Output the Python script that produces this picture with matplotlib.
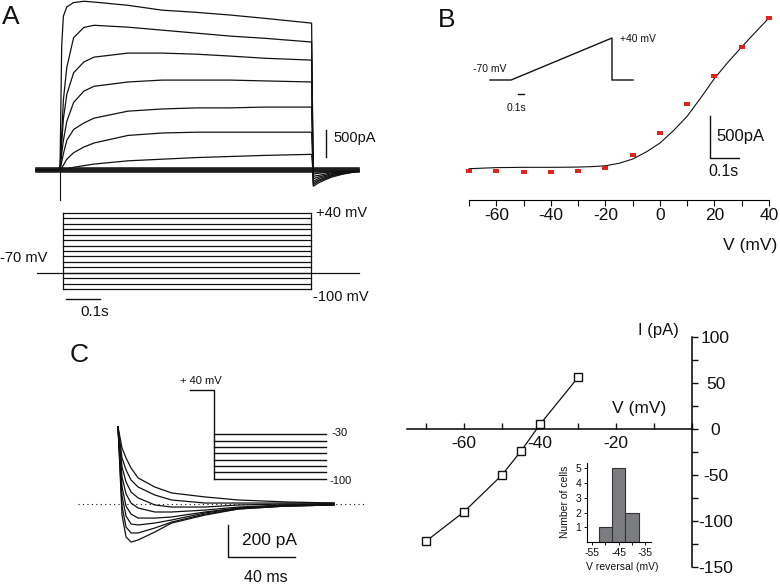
import matplotlib
matplotlib.use("Agg")
import matplotlib.pyplot as plt
from matplotlib.path import Path

plt.rcParams["font.family"] = ["Liberation Sans", "DejaVu Sans"]
plt.rcParams["axes.unicode_minus"] = False

W, H = 780, 584
INK = "#111111"

# ---- panel A: outward currents (s, pA) ----
A_T = [-0.07, 0, 0.005, 0.01, 0.02, 0.04, 0.07, 0.1, 0.2, 0.3, 0.4, 0.5, 0.6, 0.74,
       0.745, 0.75, 0.76, 0.78, 0.80, 0.83, 0.88]
A_TRACES = [
    [0, 0, 2300, 2850, 3020, 3100, 3125, 3110, 3050, 2960, 2920, 2870, 2810, 2720, -300, -280, -240, -180, -130, -80, -20],
    [0, 0, 650, 1300, 1900, 2450, 2640, 2680, 2645, 2590, 2535, 2480, 2440, 2370, -270, -250, -210, -160, -110, -70, -20],
    [0, 0, 500, 950, 1400, 1800, 2000, 2090, 2165, 2165, 2145, 2110, 2070, 2035, -240, -220, -190, -140, -100, -60, -20],
    [0, 0, 300, 550, 900, 1250, 1460, 1550, 1630, 1665, 1665, 1665, 1650, 1630, -200, -190, -160, -120, -80, -50, -15],
    [0, 0, 150, 300, 550, 750, 870, 960, 1090, 1130, 1150, 1150, 1165, 1165, -160, -150, -130, -100, -70, -40, -15],
    [0, 0, 40, 90, 200, 320, 425, 500, 640, 685, 700, 700, 700, 700, -120, -110, -100, -75, -50, -30, -10],
    [0, 0, 0, 10, 20, 50, 80, 110, 170, 200, 230, 250, 270, 290, -80, -70, -60, -45, -30, -20, -10],
]
A_FLAT = [30, 15, 0, -15, -30]                  # hyperpolarised steps, pA
A_TRANSIENT = -550                              # capacitive spike at step onset
A_SCALE = (0.782, 240, 500)                     # x (s), y0 (pA), height (pA)

PROT_A_LEVELS = [40, 30, 20, 10, 0, -10, -20, -30, -40, -50, -60, -70, -80, -90, -100]
PROT_A_DUR = 0.73
HOLD_V = -70
HOLD_T = (-0.076, 0.87)
A_TIME_BAR = (0.009, 0.109, -118)

# ---- panel B: ramp I-V ----
B_V = [-70, -60, -50, -40, -30, -20, -10, 0, 10, 20, 30, 40]
B_I = [-10, -10, -25, -25, -10, 25, 180, 440, 785, 1120, 1465, 1810]
B_FIT_V = [-70, -65, -60, -55, -50, -45, -40, -35, -30, -25, -20, -15, -10, -5,
           0, 5, 10, 15, 20, 25, 30, 35, 40]
B_FIT_I = [15, 22, 28, 30, 32, 32, 32, 33, 35, 40, 50, 80, 130, 215,
           320, 470, 640, 860, 1090, 1285, 1465, 1640, 1810]
B_SCALE = (18.4, 143, 500, 10.6)  # x, y, height (pA), width
RAMP_T = [0, 0.37, 2.14, 2.14, 2.51]
RAMP_V = [-70, -70, 40, -70, -70]
RAMP_BAR = (0.49, 0.59, -107)

# ---- panel C: tail currents (ms, pA) ----
C_T = [0, 2.4, 4.8, 7.8, 12, 22, 32, 52, 72, 100, 129]
C_TRACES = [
    [481, 350, 288, 225, 163, 106, 69, 44, 25, 13, 6],
    [481, 288, 213, 150, 106, 56, 25, 6, 6, 6, 6],
    [481, 231, 138, 75, 38, -6, -19, -19, -6, 0, 0],
    [481, 169, 63, 6, -25, -50, -50, -38, -19, -6, 0],
    [481, 106, -13, -63, -88, -88, -81, -50, -25, -6, 0],
    [481, 50, -75, -125, -131, -119, -100, -56, -25, -13, -6],
    [481, -13, -144, -181, -181, -150, -113, -63, -31, -13, -6],
    [481, -69, -206, -238, -225, -175, -119, -69, -31, -13, -6],
]
C_BASE_T = (-24, 147)
C_SCALE = (65.7, -331, 200, 40)   # x, y, height (pA), width (ms)
PROT_C_PRE = (0, 14.3, 40)
PROT_C_END = 81
PROT_C_LEVELS = [-30, -40, -50, -60, -70, -80, -90, -100]

C_V = [-70, -60, -50, -45, -40, -30]
C_I = [-122, -90, -50, -24, 5, 56]

HIST_CENTERS = [-50, -45, -40]
HIST_COUNTS = [1, 5, 2]

fig = plt.figure(figsize=(W / 100, H / 100), dpi=100)


def px_axes(box, xmap, ymap, off=True):
    # box in pixels (left, top, right, bottom); maps are two (pixel, value) pairs
    x0, y0, x1, y1 = box
    (pa, va), (pb, vb) = xmap
    sx = (vb - va) / (pb - pa)
    (qa, ua), (qb, ub) = ymap
    sy = (ub - ua) / (qb - qa)
    ax = fig.add_axes([x0 / W, 1 - y1 / H, (x1 - x0) / W, (y1 - y0) / H])
    ax.set_xlim(va + (x0 - pa) * sx, va + (x1 - pa) * sx)
    ax.set_ylim(ua + (y1 - qa) * sy, ua + (y0 - qa) * sy)
    ax.set_facecolor("none")
    if off:
        ax.axis("off")
    return ax


def label(x, y, s, size=11, ha="left", va="center", **kw):
    fig.text(x / W, 1 - y / H, s, fontsize=size, ha=ha, va=va, color=INK, **kw)


# ---------------- A ----------------
ax = px_axes((30, 0, 365, 215), ((60, 0), (94, 0.1)), ((170, 0), (143, 500)))
for off in A_FLAT:
    ax.plot([A_T[0], A_T[-1]], [off, off], color=INK, lw=1.1)
for tr in A_TRACES:
    ax.plot(A_T, tr, color=INK, lw=0.9)
ax.plot([0, 0], [0, A_TRANSIENT], color=INK, lw=0.8)
x, y0, h = A_SCALE
ax.plot([x, x], [y0, y0 + h], color=INK, lw=1.0)

ax = px_axes((30, 205, 365, 325), ((63, 0), (97, 0.1)), ((213, 40), (289, -100)))
for v in PROT_A_LEVELS:
    ax.plot([0, PROT_A_DUR], [v, v], color=INK, lw=0.9)
for t in (0, PROT_A_DUR):
    ax.plot([t, t], [PROT_A_LEVELS[-1], PROT_A_LEVELS[0]], color=INK, lw=0.9)
ax.plot(HOLD_T, [HOLD_V, HOLD_V], color=INK, lw=0.9)
ax.plot(A_TIME_BAR[:2], [A_TIME_BAR[2]] * 2, color=INK, lw=1.0)

label(2, 17, "A", size=19)
label(333, 138, "500pA", size=10.5)
label(316, 213, "+40 mV", size=10.5)
label(0, 258, "-70 mV", size=10.5)
label(313, 297, "-100 mV", size=10.5)
label(80, 312, "0.1s", size=11)

# ---------------- B ----------------
ax = px_axes((455, 0, 780, 200), ((469, -70), (769, 40)), ((170, 0), (128, 500)), off=False)
for s in ("top", "left", "right"):
    ax.spines[s].set_visible(False)
ax.spines["bottom"].set_bounds(-70, 40)
ax.spines["bottom"].set_linewidth(0.8)
ax.set_yticks([])
ax.set_xticks([-60, -40, -20, 0, 20, 40])
ax.set_xticks([-70, -50, -30, -10, 10, 30], minor=True)
ax.tick_params(axis="x", which="both", direction="out", length=4, width=0.8,
               labelsize=12.5, pad=2, colors=INK)
ax.plot(B_FIT_V, B_FIT_I, color=INK, lw=0.8)
rect = Path([(-1, -0.62), (1, -0.62), (1, 0.62), (-1, 0.62), (-1, -0.62)])
ax.plot(B_V, B_I, ls="none", marker=rect, ms=4.6, color="#e2231a", mew=0)
x, y, h, w = B_SCALE
ax.plot([x, x, x + w], [y + h, y, y], color=INK, lw=1.0)

ax = px_axes((470, 25, 660, 118), ((490, 0), (547, 1.0)), ((80, -70), (38, 40)))
ax.plot(RAMP_T, RAMP_V, color=INK, lw=1.0)
ax.plot(RAMP_BAR[:2], [RAMP_BAR[2]] * 2, color=INK, lw=1.0)

label(438, 20, "B", size=19)
label(473, 69, "-70 mV", size=7.5)
label(620, 39, "+40 mV", size=7.5)
label(507, 108, "0.1s", size=7.5)
label(716, 137, "500pA", size=12)
label(708, 171, "0.1s", size=11.5)
label(723, 245, "V (mV)", size=12.5)

# ---------------- C left ----------------
ax = px_axes((60, 410, 380, 590), ((118, 0), (185, 40)), ((504, 0), (536, -200)))
ax.plot(C_BASE_T, [0, 0], color=INK, lw=0.8, ls=(0, (1, 3)))
for tr in C_TRACES:
    ax.plot(C_T, tr, color=INK, lw=0.9)
x, y, h, w = C_SCALE
ax.plot([x, x, x + w], [y + h, y, y], color=INK, lw=1.0)

ax = px_axes((170, 375, 345, 490), ((190, 0), (215.1, 15)), ((390, 40), (434.3, -30)))
t0, t1, vpre = PROT_C_PRE
ax.plot([t0, t1, t1], [vpre, vpre, PROT_C_LEVELS[-1]], color=INK, lw=1.0)
for v in PROT_C_LEVELS:
    ax.plot([t1, PROT_C_END], [v, v], color=INK, lw=1.0)

label(70, 355, "C", size=19)
label(180, 381, "+ 40 mV", size=8)
label(332, 433, "-30", size=8)
label(330, 481, "-100", size=8)
label(242, 540, "200 pA", size=12.5)
label(244, 578, "40 ms", size=11.5)

# ---------------- C right: I-V ----------------
ax = px_axes((400, 320, 760, 578), ((692, 0), (616, -20)), ((429, 0), (383, 50)), off=False)
ax.spines["top"].set_visible(False)
ax.spines["left"].set_visible(False)
ax.spines["bottom"].set_position(("data", 0))
ax.spines["right"].set_position(("data", 0))
ax.spines["bottom"].set_bounds(-75, 0)
ax.spines["right"].set_bounds(-150, 100)
for s in ("bottom", "right"):
    ax.spines[s].set_linewidth(1.1)
ax.yaxis.tick_right()
ax.set_xticks([-60, -40, -20])
ax.set_xticks([-70, -50, -30, -10, 0], minor=True)
ax.set_yticks([-150, -100, -50, 0, 50, 100])
ax.set_yticks([-125, -75, -25, 25, 75], minor=True)
ax.tick_params(axis="x", which="both", direction="in", length=4, width=1.0,
               labelsize=12.5, pad=5, colors=INK)
ax.tick_params(axis="y", which="both", direction="out", length=4, width=1.0,
               labelsize=12.5, pad=13, colors=INK)
plt.setp(ax.get_yticklabels(), ha="center")
ax.plot(C_V, C_I, color=INK, lw=0.9, marker="s", ms=6.3, mfc="white", mec=INK, mew=1.0)

label(638, 330, "I (pA)", size=12)
label(612, 408, "V (mV)", size=12.5)

# histogram inset
ax = px_axes((587, 462.6, 651, 542), ((592, -55), (618.7, -45)), ((542, 0), (527.3, 1)), off=False)
for s in ("top", "right"):
    ax.spines[s].set_visible(False)
for s in ("left", "bottom"):
    ax.spines[s].set_linewidth(0.8)
ax.bar(HIST_CENTERS, HIST_COUNTS, width=5, color="#7b7d80", edgecolor="#333333", linewidth=0.8)
ax.set_xticks([-55, -45, -35])
ax.set_xticks([-50, -40], minor=True)
ax.set_yticks([1, 2, 3, 4, 5])
ax.tick_params(which="both", direction="out", length=2.5, width=0.7, labelsize=7.5, pad=1.5, colors=INK)

label(565, 502, "Number of cells", size=7.5, ha="center", rotation=90)
label(622, 567, "V reversal (mV)", size=7.5, ha="center")

fig.savefig("out.png", dpi=100)
